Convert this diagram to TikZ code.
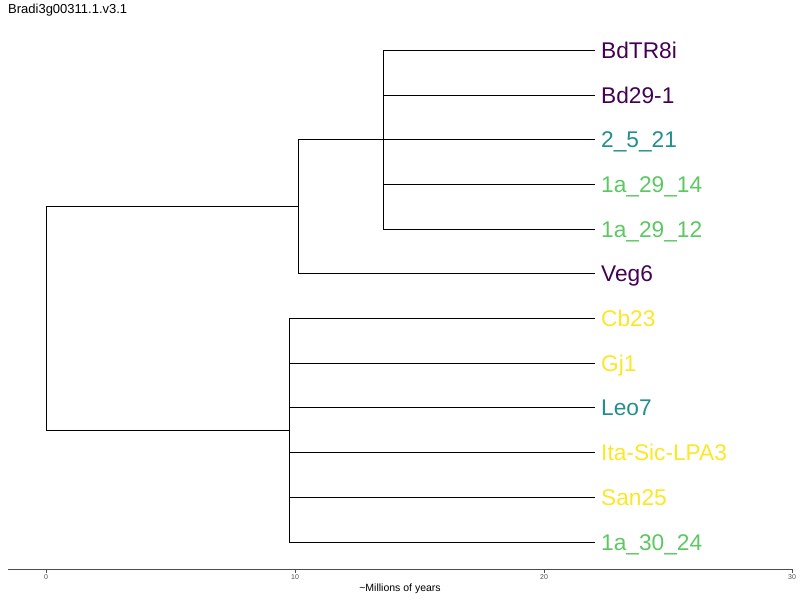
\documentclass[tikz,border=0pt]{standalone}
\usepackage{fontspec}
\setmainfont{Liberation Sans}
\usepackage{tikz}
\usetikzlibrary{positioning}
\definecolor{vpurple}{HTML}{440154}
\definecolor{vteal}{HTML}{21908C}
\definecolor{vgreen}{HTML}{5DC863}
\definecolor{vyellow}{HTML}{FDE725}
\definecolor{axisgray}{HTML}{4D4D4D}

\begin{document}
\begin{tikzpicture}[
  x=1pt, y=-1pt,
  leaf/.style={
    anchor=west,
    inner xsep=6pt,
    inner ysep=0pt,
    text height=16pt,
    text depth=0pt,
    font=\fontsize{22.7}{22.7}\selectfont
  },
  branch/.style={
    draw=black,
    line width=0.75pt
  },
  axisline/.style={
    draw=axisgray,
    line width=0.9pt
  }
]
\useasboundingbox (0,0) rectangle (800,600);
\node[anchor=west, inner sep=0pt, font=\fontsize{13}{13}\selectfont] (title) at (8,10) {Bradi3g00311.1.v3.1};

% internal nodes
\coordinate (root) at (46,318);
\coordinate (upper) at (298,206);
\coordinate (inner) at (383,139.5);
\coordinate (lower) at (289,430);

% leaves
\node[leaf, text=vpurple] (bdtr) at (595,50) {BdTR8i};
\node[leaf, text=vpurple] (bd29) at (595,95) {Bd29-1};
\node[leaf, text=vteal] (tfs) at (595,139) {2\_5\_21};
\node[leaf, text=vgreen] (a2914) at (595,184) {1a\_29\_14};
\node[leaf, text=vgreen] (a2912) at (595,229) {1a\_29\_12};
\node[leaf, text=vpurple] (veg) at (595,273) {Veg6};
\node[leaf, text=vyellow] (cb) at (595,318) {Cb23};
\node[leaf, text=vyellow] (gj) at (595,363) {Gj1};
\node[leaf, text=vteal] (leo) at (595,407) {Leo7};
\node[leaf, text=vyellow] (ita) at (595,452) {Ita-Sic-LPA3};
\node[leaf, text=vyellow] (san) at (595,497) {San25};
\node[leaf, text=vgreen] (a3024) at (595,542) {1a\_30\_24};

\draw[branch] (root) |- (upper);
\draw[branch] (root) |- (lower);
\draw[branch] (upper) |- (inner);
\draw[branch] (upper) |- (veg.west);
\draw[branch] (inner) |- (bdtr.west);
\draw[branch] (inner) |- (bd29.west);
\draw[branch] (inner) |- (tfs.west);
\draw[branch] (inner) |- (a2914.west);
\draw[branch] (inner) |- (a2912.west);
\draw[branch] (lower) |- (cb.west);
\draw[branch] (lower) |- (gj.west);
\draw[branch] (lower) |- (leo.west);
\draw[branch] (lower) |- (ita.west);
\draw[branch] (lower) |- (san.west);
\draw[branch] (lower) |- (a3024.west);

% time axis
\draw[axisline] (8,569) -- (793,569);
\foreach \t/\xp in {0/46,10/295,20/544,30/792}
  \draw[axisline] (\xp,569) -- (\xp,573)
    node[below, inner sep=1.5pt, text=axisgray, font=\fontsize{7}{7}\selectfont] {\t};
\node[font=\fontsize{10.5}{10.5}\selectfont] (axislabel) at (400,589) {\textasciitilde Millions of years};
\end{tikzpicture}
\end{document}
